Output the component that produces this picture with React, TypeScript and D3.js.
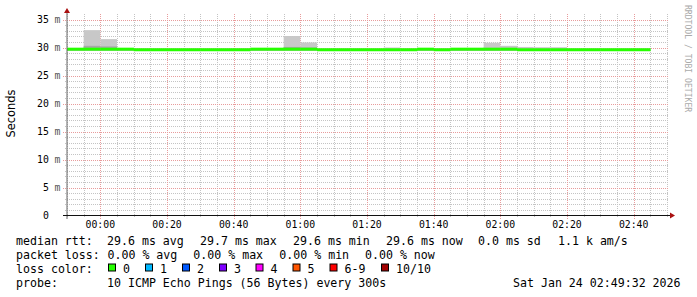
import React from 'react';
import * as d3 from 'd3';

// 5-minute step start times (UTC)
const stepTimes = [
  "23:50","23:55","00:00","00:05","00:10","00:15","00:20","00:25","00:30","00:35",
  "00:40","00:45","00:50","00:55","01:00","01:05","01:10","01:15","01:20","01:25",
  "01:30","01:35","01:40","01:45","01:50","01:55","02:00","02:05","02:10","02:15",
  "02:20","02:25","02:30","02:35","02:40",
];
// median RTT (ms)
const median = [
  29.7,29.7,29.7,29.7,29.6,29.6,29.6,29.6,29.6,29.6,
  29.6,29.7,29.7,29.7,29.7,29.6,29.6,29.6,29.6,29.6,
  29.6,29.7,29.6,29.7,29.7,29.7,29.7,29.6,29.6,29.6,
  29.6,29.6,29.6,29.6,29.6,
];
// smoke: max ping (ms)
const smokeMax = [
  29.8,33.1,31.5,29.8,29.8,29.8,29.8,29.8,29.8,29.8,
  29.8,29.8,29.8,32.05,30.9,29.8,29.8,29.8,29.8,30.0,
  29.8,29.8,29.8,29.8,29.8,30.85,30.3,30.1,30.05,30.05,
  29.8,29.8,29.8,29.8,29.8,
];
// smoke: inner (darker) band upper bound (ms)
const smokeInner = [
  29.7,30.3,30.2,29.6,29.6,29.6,29.6,29.6,29.6,29.6,
  29.6,29.7,29.7,30.1,30.0,29.6,29.6,29.6,29.6,29.6,
  29.6,29.7,29.6,29.7,29.7,29.9,29.9,29.6,29.6,29.6,
  29.6,29.6,29.6,29.6,29.6,
];
// smoke: min ping (ms)
const smokeMin = [
  29.45,29.45,29.45,29.45,29.45,29.45,29.45,29.45,29.45,29.45,
  29.45,29.45,29.45,29.45,29.45,29.45,29.45,29.45,29.45,29.45,
  29.45,29.45,29.45,29.45,29.45,29.45,29.45,29.45,29.45,29.45,
  29.45,29.45,29.45,29.45,29.45,
];

const yTicks = [0, 5, 10, 15, 20, 25, 30, 35];
const xTickLabels = ["00:00","00:20","00:40","01:00","01:20","01:40","02:00","02:20","02:40"];

const lossLabels = ["0","1","2","3","4","5","6-9","10/10"];
const lossColors = ["#26ff00","#00b8ff","#0059ff","#7e00ff","#ff00ff","#ff5500","#ff0000","#a10000"];

const rttLabel = "median rtt:";
const rttItems = ["29.6 ms avg","29.7 ms max","29.6 ms min","29.6 ms now","0.0 ms sd","1.1 k am/s"];
const lossLabel = "packet loss:";
const lossItems = ["0.00 % avg","0.00 % max","0.00 % min","0.00 % now"];
const probeLabel = "probe:";
const probeText = "10 ICMP Echo Pings (56 Bytes) every 300s";
const dateText = "Sat Jan 24 02:49:32 2026";

const toDate = (hm: string) => {
  const [h, m] = hm.split(':').map(Number);
  const day = h >= 12 ? 23 : 24;
  return new Date(Date.UTC(2026, 0, day, h, m));
};

const MONO = '"DejaVu Sans Mono", monospace';

export default function App() {
  const W = 697, H = 297;
  const left = 67, right = 667, bottom = 215.5, top = 14;
  const t0 = new Date(Date.UTC(2026, 0, 23, 23, 50));
  const t1 = new Date(Date.UTC(2026, 0, 24, 2, 50));
  const x = d3.scaleUtc().domain([t0, t1]).range([left, right]);
  const y = d3.scaleLinear().domain([0, 35]).range([bottom, 19.5]);

  const minorX = d3.utcMinute.every(5)!.range(t0, new Date(+t1 + 1));
  const majorX = d3.utcMinute.every(20)!.range(t0, new Date(+t1 + 1));
  const minorY = d3.range(1, 36).filter(v => v % 5 !== 0);

  const steps = stepTimes.map((s, i) => {
    const ts = toDate(s);
    const te = d3.utcMinute.offset(ts, 5);
    return { x0: x(ts), x1: x(te), i };
  });

  const gridMinor = '#c4c4c4';
  const gridMajor = '#e89c9c';

  const rttX = [107, 200, 293, 386, 478, 558];
  const lossX = [107.5, 193.3, 279.3, 365];
  const boxX = [108.5, 145.5, 182.5, 219.5, 256, 293, 330, 381.5];

  return (
    <svg width={W} height={H} style={{ position: 'absolute', left: 0, top: 0, background: '#fff' }}
      fontFamily={MONO}>
      <rect x={0} y={0} width={W} height={H} fill="#fff" />
      {/* minor grid */}
      {minorY.map(v => (
        <line key={'hy' + v} x1={65} x2={669} y1={Math.round(y(v)) + 0.5} y2={Math.round(y(v)) + 0.5}
          stroke={gridMinor} strokeDasharray="1,1" />
      ))}
      {minorX.map(t => (
        <line key={'vx' + +t} x1={Math.round(x(t)) + 0.5} x2={Math.round(x(t)) + 0.5} y1={top} y2={217}
          stroke={gridMinor} strokeDasharray="1,1" />
      ))}
      {/* major grid */}
      {yTicks.filter(v => v > 0).map(v => (
        <line key={'my' + v} x1={63} x2={669} y1={Math.round(y(v)) + 0.5} y2={Math.round(y(v)) + 0.5}
          stroke={gridMajor} strokeDasharray="1,1" />
      ))}
      {majorX.map(t => (
        <line key={'mx' + +t} x1={Math.round(x(t)) + 0.5} x2={Math.round(x(t)) + 0.5} y1={top} y2={219}
          stroke={gridMajor} strokeDasharray="1,1" />
      ))}

      {/* smoke */}
      {steps.map(s => (
        <rect key={'sm' + s.i} x={s.x0} width={s.x1 - s.x0} y={y(smokeMax[s.i])}
          height={y(smokeMin[s.i]) - y(smokeMax[s.i])} fill="#c8c8c8" />
      ))}
      {steps.map(s => (
        <rect key={'si' + s.i} x={s.x0} width={s.x1 - s.x0} y={y(smokeInner[s.i])}
          height={Math.max(0, y(smokeMin[s.i]) - y(smokeInner[s.i]))} fill="#a8a8a8" />
      ))}
      {/* median band */}
      {steps.map(s => (
        <rect key={'md' + s.i} x={s.x0} width={s.x1 - s.x0 + 0.3} y={y(median[s.i]) - 1.5}
          height={3} fill={lossColors[0]} />
      ))}

      {/* axes */}
      <line x1={67} x2={67} y1={12} y2={219} stroke="#666" strokeWidth={1} />
      <line x1={63} x2={670} y1={215.5} y2={215.5} stroke="#111" strokeWidth={1} />
      <path d="M67,8 L64,13 L70,13 Z" fill="#a11" />
      <path d="M675,215.5 L670,212.5 L670,218.5 Z" fill="#a11" />

      {/* y labels */}
      {yTicks.map(v => (
        <g key={'yl' + v} fontSize={9.8} fill="#000">
          <text x={48.8} y={y(v) + 3.6} textAnchor="end">{v}</text>
          {v !== 0 && <text x={54.5} y={y(v) + 3.6} fill="#555">m</text>}
        </g>
      ))}
      {/* x labels */}
      {majorX.map(t => {
        const lbl = d3.utcFormat('%H:%M')(t);
        if (!xTickLabels.includes(lbl)) return null;
        return (
          <text key={'xl' + lbl} x={x(t)} y={228.3} textAnchor="middle" fontSize={9.8} fill="#000">{lbl}</text>
        );
      })}

      {/* y title */}
      <text transform="translate(14.5,113.5) rotate(-90)" textAnchor="middle"
        fontFamily='"DejaVu Sans", sans-serif' fontSize={11.4} fill="#000">Seconds</text>
      {/* watermark */}
      <text transform="translate(684.5,5) rotate(90)" textAnchor="start" fontSize={8.1} fill="#aaa">RRDTOOL / TOBI OETIKER</text>

      {/* legend */}
      <g fontSize={11.6} fill="#000" style={{ whiteSpace: 'pre' }}>
        <text x={16} y={245}>{rttLabel}</text>
        {rttItems.map((s, i) => <text key={'r' + i} x={rttX[i]} y={245}>{s}</text>)}
        <text x={16} y={259}>{lossLabel}</text>
        {lossItems.map((s, i) => <text key={'l' + i} x={lossX[i]} y={259}>{s}</text>)}
        <text x={16} y={273}>loss color:</text>
        {lossLabels.map((s, i) => (
          <g key={'b' + i}>
            <rect x={boxX[i]} y={264} width={7} height={7} fill={lossColors[i]} stroke="#000" strokeWidth={1} />
            <text x={boxX[i] + 14.5} y={273}>{s}</text>
          </g>
        ))}
        <text x={16} y={287}>{probeLabel}</text>
        <text x={107} y={287}>{probeText}</text>
        <text x={513} y={287}>{dateText}</text>
      </g>
    </svg>
  );
}
